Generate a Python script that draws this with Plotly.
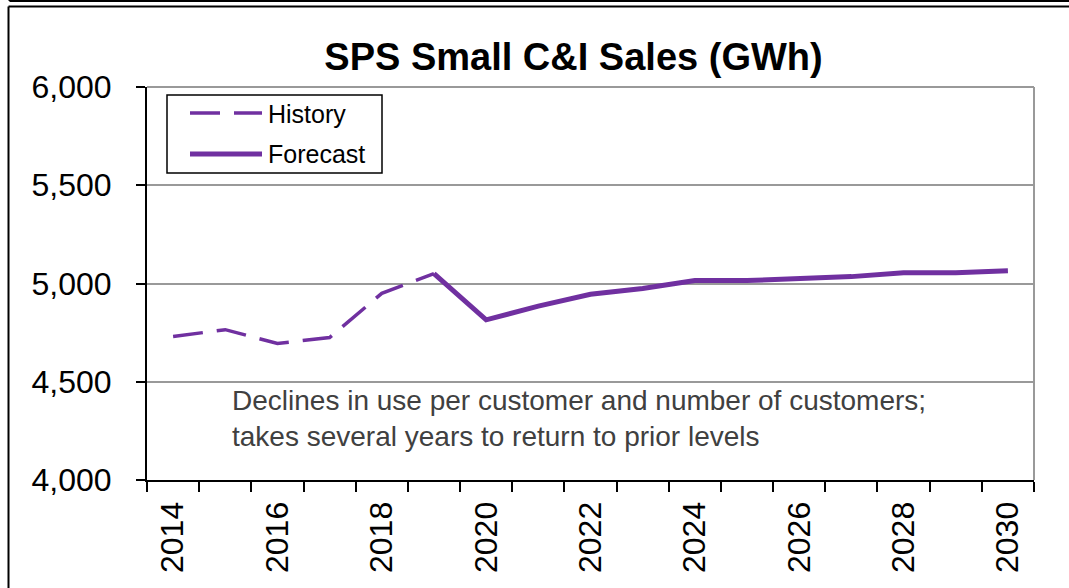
import plotly.graph_objects as go

# ---- data ----
years = list(range(2014, 2031))
history_years = [2014, 2015, 2016, 2017, 2018, 2019]
history_vals = [4730, 4765, 4695, 4725, 4950, 5050]
forecast_years = [2019, 2020, 2021, 2022, 2023, 2024, 2025, 2026, 2027, 2028, 2029, 2030]
forecast_vals = [5050, 4815, 4885, 4945, 4975, 5015, 5015, 5025, 5035, 5055, 5055, 5065]
label_years = [2014, 2016, 2018, 2020, 2022, 2024, 2026, 2028, 2030]
y_ticks = [4000, 4500, 5000, 5500, 6000]
y_ticktext = ["4,000", "4,500", "5,000", "5,500", "6,000"]

title_text = "SPS Small C&amp;I Sales (GWh)"
note_text = "Declines in use per customer and number of customers;<br>takes several years to return to prior levels"

PURPLE = "#7030A0"
GRID = "#999999"
W, H = 1069, 588
L, R, T, B = 147, 1034, 87, 480  # plot area in pixels


def px(x):
    return (x - L) / (R - L)


def py(y):
    return (B - y) / (B - T)


fig = go.Figure()
fig.add_trace(go.Scatter(x=history_years, y=history_vals, mode="lines", name="History",
                         line=dict(color=PURPLE, width=3.5, dash="30px,14px")))
fig.add_trace(go.Scatter(x=forecast_years, y=forecast_vals, mode="lines", name="Forecast",
                         line=dict(color=PURPLE, width=5)))

shapes = []
# plot area top & right gray borders
shapes.append(dict(type="line", xref="paper", yref="paper", x0=0, x1=1, y0=1, y1=1,
                   line=dict(color=GRID, width=2)))
shapes.append(dict(type="line", xref="paper", yref="paper", x0=1, x1=1, y0=0, y1=1,
                   line=dict(color=GRID, width=2)))
# outer frame lines
shapes.append(dict(type="line", xref="paper", yref="paper", x0=px(9.5), x1=px(1075), y0=py(1), y1=py(1),
                   line=dict(color="black", width=2)))
shapes.append(dict(type="line", xref="paper", yref="paper", x0=px(9.5), x1=px(9.5), y0=py(-5), y1=py(1),
                   line=dict(color="black", width=2)))
shapes.append(dict(type="line", xref="paper", yref="paper", x0=px(8.5), x1=px(1075), y0=py(6.5), y1=py(6.5),
                   line=dict(color="black", width=2)))
shapes.append(dict(type="line", xref="paper", yref="paper", x0=px(8.5), x1=px(8.5), y0=py(6.5), y1=py(600),
                   line=dict(color="black", width=2)))
# legend box
shapes.append(dict(type="rect", xref="paper", yref="paper", x0=px(167), x1=px(382), y0=py(95), y1=py(173),
                   line=dict(color="black", width=1.5), fillcolor="white"))
shapes.append(dict(type="line", xref="paper", yref="paper", x0=px(190), x1=px(262), y0=py(113), y1=py(113),
                   line=dict(color=PURPLE, width=3.5, dash="30px,14px")))
shapes.append(dict(type="line", xref="paper", yref="paper", x0=px(190), x1=px(262), y0=py(154), y1=py(154),
                   line=dict(color=PURPLE, width=5)))

annotations = [
    dict(text="History", xref="paper", yref="paper", x=px(266), y=py(114), xanchor="left", yanchor="middle",
         showarrow=False, font=dict(size=25, color="black", family="Liberation Sans, Arial")),
    dict(text="Forecast", xref="paper", yref="paper", x=px(266), y=py(154), xanchor="left", yanchor="middle",
         showarrow=False, font=dict(size=25, color="black", family="Liberation Sans, Arial")),
    dict(text=note_text, xref="paper", yref="paper", x=px(230), y=py(383), xanchor="left", yanchor="top",
         align="left", showarrow=False, font=dict(size=28, color="#404040", family="Liberation Sans, Arial")),
]

fig.update_layout(
    width=W, height=H,
    margin=dict(l=L, r=W - R, t=T, b=H - B, pad=0, autoexpand=False),
    paper_bgcolor="white", plot_bgcolor="white",
    showlegend=False,
    title=dict(text="<b>" + title_text + "</b>", x=573.5 / W, xanchor="center", xref="container",
               y=1 - 57 / H, yanchor="middle", yref="container",
               font=dict(size=38, color="black", family="Liberation Sans, Arial")),
    font=dict(family="Liberation Sans, Arial", color="black"),
    shapes=shapes,
    annotations=annotations,
)

fig.update_xaxes(
    range=[2013.5, 2030.5], automargin=False,
    tickmode="array", tickvals=label_years, ticktext=[str(y) for y in label_years],
    tickangle=-90, tickfont=dict(size=32, color="black"),
    ticks="outside", ticklen=5, tickcolor="rgba(0,0,0,0)",
    ticklabelstandoff=2,
    showline=True, linecolor="black", linewidth=2,
    showgrid=False, zeroline=False,
    minor=dict(tickmode="linear", tick0=2013.5, dtick=1, ticks="outside", ticklen=10,
               tickcolor="black", tickwidth=2, showgrid=False),
)
fig.update_yaxes(
    range=[4000, 6000], automargin=False,
    tickmode="array", tickvals=y_ticks, ticktext=y_ticktext,
    tickfont=dict(size=32, color="black"),
    ticks="outside", ticklen=9, tickcolor="black", tickwidth=2,
    ticklabelstandoff=18,
    showline=True, linecolor="black", linewidth=2,
    showgrid=True, gridcolor=GRID, gridwidth=2, zeroline=False,
)

fig.write_html("out.html", config={"displayModeBar": False},
               post_script="document.body.style.margin='0';document.body.style.overflow='hidden';")
